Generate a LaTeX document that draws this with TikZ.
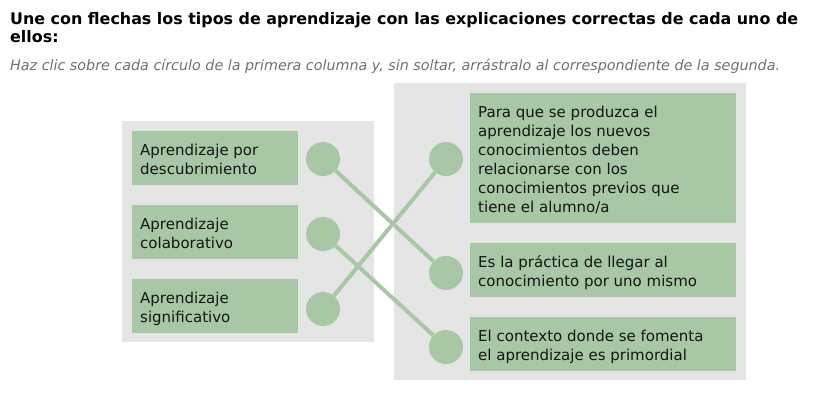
\documentclass[tikz,border=0pt]{standalone}
\usepackage{fontspec}
\setmainfont{DejaVu Sans}
\usetikzlibrary{calc}
\definecolor{boxgreen}{HTML}{A8C8A5}
\definecolor{panelgray}{HTML}{E5E5E5}
\definecolor{txtdark}{HTML}{141414}
\definecolor{subgray}{HTML}{707070}
\tikzset{
  panel/.style={fill=panelgray, draw=none, anchor=north west, inner sep=0pt},
  box/.style={fill=boxgreen, draw=none, anchor=north west, inner sep=0pt},
  txt/.style={anchor=north west, inner sep=0pt, align=left, text=txtdark, font=\fontsize{15}{19}\selectfont},
  dot/.style={circle, fill=boxgreen, draw=none, minimum size=34pt, inner sep=0pt},
  conn/.style={draw=boxgreen, line width=4pt},
  titletxt/.style={anchor=base west, inner sep=0pt, font=\bfseries\fontsize{15.9}{19}\selectfont},
}
\begin{document}
\begin{tikzpicture}[x=1pt, y=-1pt]
\useasboundingbox (0,0) rectangle (813,415);
% title
\node[titletxt] (t1) at (10,24) {Une con flechas los tipos de aprendizaje con las explicaciones correctas de cada uno de};
\node[titletxt] (t2) at (10,42) {ellos:};
\node[anchor=base west, inner sep=0pt, text=subgray, font=\itshape\fontsize{14.3}{16}\selectfont] (sub) at (10,70) {Haz clic sobre cada círculo de la primera columna y, sin soltar, arrástralo al correspondiente de la segunda.};
% panels
\node[panel, minimum width=252pt, minimum height=221pt] (pl) at (122,121) {};
\node[panel, minimum width=352pt, minimum height=297pt] (pr) at (394,83) {};
% left boxes
\node[box, minimum width=166pt, minimum height=54pt] (l1) at (132,131) {};
\node[box, minimum width=166pt, minimum height=54pt] (l2) at (132,205) {};
\node[box, minimum width=166pt, minimum height=54pt] (l3) at (132,279) {};
\node[txt] (l1t) at ($(l1.north west)+(8,12.5)$) {Aprendizaje por\\descubrimiento};
\node[txt] (l2t) at ($(l2.north west)+(8,12.5)$) {Aprendizaje\\colaborativo};
\node[txt] (l3t) at ($(l3.north west)+(8,12.5)$) {Aprendizaje\\significativo};
% right boxes
\node[box, minimum width=266pt, minimum height=130pt] (r1) at (470,93) {};
\node[box, minimum width=266pt, minimum height=54pt] (r2) at (470,243) {};
\node[box, minimum width=266pt, minimum height=54pt] (r3) at (470,317) {};
\node[txt] (r1t) at ($(r1.north west)+(8,12.5)$) {Para que se produzca el\\aprendizaje los nuevos\\conocimientos deben\\relacionarse con los\\conocimientos previos que\\tiene el alumno/a};
\node[txt] (r2t) at ($(r2.north west)+(8,12.5)$) {Es la práctica de llegar al\\conocimiento por uno mismo};
\node[txt] (r3t) at ($(r3.north west)+(8,12.5)$) {El contexto donde se fomenta\\el aprendizaje es primordial};
% circles
\node[dot] (c1) at (323,159) {};
\node[dot] (c2) at (323,234) {};
\node[dot] (c3) at (323,309) {};
\node[dot] (d1) at (446,159) {};
\node[dot] (d2) at (446,273) {};
\node[dot] (d3) at (446,347) {};
% connectors
\draw[conn] (c1) -- (d2);
\draw[conn] (c2) -- (d3);
\draw[conn] (c3) -- (d1);
\end{tikzpicture}
\end{document}
